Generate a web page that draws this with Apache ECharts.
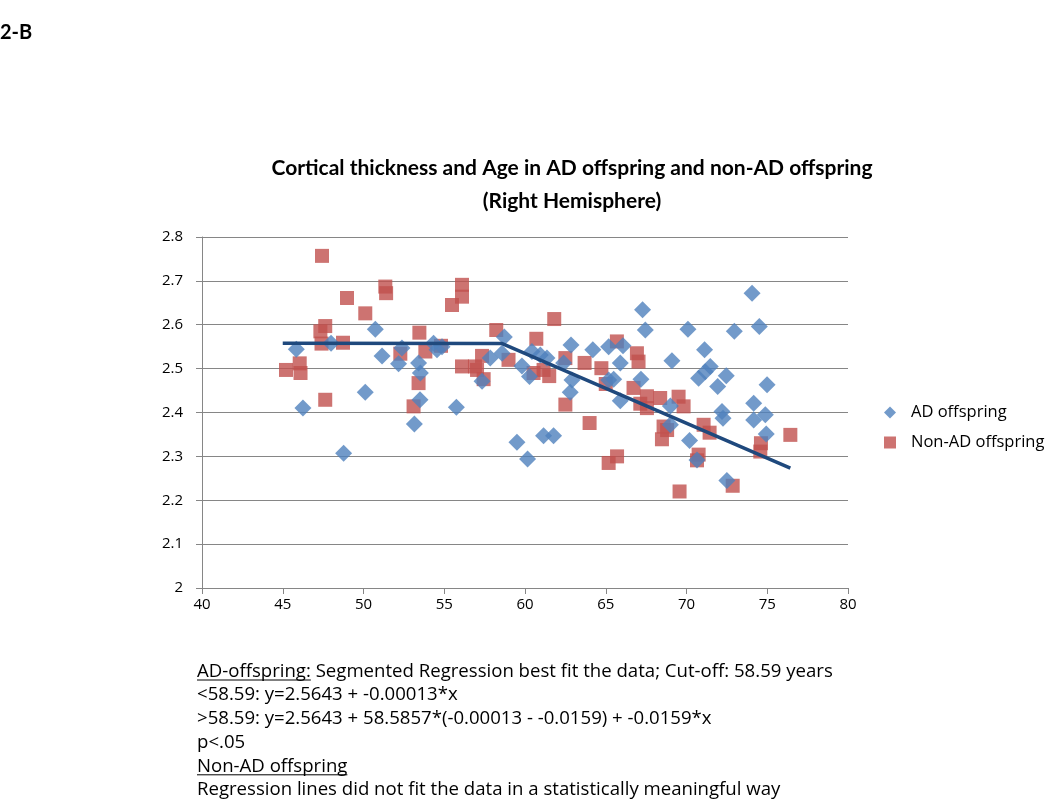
<!DOCTYPE html>
<html><head><meta charset="utf-8">
<script src="https://cdn.jsdelivr.net/npm/echarts@6/dist/echarts.min.js"></script>
<style>html,body{margin:0;padding:0;background:#fff}#c{width:1050px;height:807px}</style>
</head><body><div id="c"></div>
<script>
// AD offspring [age, thickness]
const adOffspring = [
[45.84,2.544],[46.25,2.41],[47.99,2.558],[48.77,2.307],[50.11,2.446],[50.73,2.59],[51.15,2.529],
[52.17,2.511],[52.38,2.547],[53.15,2.374],[53.41,2.513],[53.52,2.49],[53.5,2.429],[54.34,2.558],
[54.55,2.543],[54.86,2.55],[55.75,2.412],[57.34,2.471],[57.85,2.524],[58.58,2.535],[58.72,2.572],
[59.5,2.332],[59.81,2.506],[60.16,2.294],[60.28,2.482],[60.43,2.539],[60.95,2.531],[61.15,2.347],
[61.36,2.524],[61.77,2.347],[62.39,2.513],[62.8,2.446],[62.85,2.554],[62.91,2.474],[64.2,2.543],
[65.18,2.55],[65.18,2.474],[65.49,2.476],[65.9,2.513],[65.9,2.427],[66.07,2.552],[67.18,2.476],
[67.28,2.634],[67.45,2.588],[69.0,2.415],[69.0,2.372],[69.1,2.518],[70.09,2.59],[70.19,2.336],
[70.65,2.292],[70.75,2.478],[71.12,2.543],[71.16,2.493],[71.47,2.505],[71.93,2.459],[72.2,2.402],
[72.26,2.387],[72.46,2.484],[72.5,2.245],[72.96,2.585],[74.06,2.672],[74.16,2.421],[74.16,2.383],
[74.51,2.596],[74.88,2.395],[74.94,2.351],[74.99,2.463]
];
// Non-AD offspring [age, thickness]
const nonAdOffspring = [
[45.2,2.497],[46.05,2.512],[46.1,2.49],[47.43,2.757],[47.63,2.597],[47.33,2.585],[47.4,2.557],
[47.63,2.429],[48.73,2.559],[48.98,2.661],[50.11,2.626],[51.35,2.687],[51.4,2.672],[52.28,2.534],
[53.1,2.414],[53.41,2.467],[53.46,2.582],[53.83,2.539],[54.8,2.552],[55.48,2.645],[56.1,2.691],
[56.1,2.664],[56.1,2.505],[56.9,2.505],[57.03,2.497],[57.34,2.529],[57.44,2.476],[58.22,2.588],
[58.98,2.52],[60.53,2.49],[60.7,2.568],[61.15,2.497],[61.5,2.483],[61.81,2.613],[62.5,2.524],
[62.5,2.418],[63.69,2.513],[64.0,2.376],[64.73,2.501],[65.0,2.465],[65.18,2.285],[65.69,2.562],
[65.7,2.3],[66.72,2.456],[66.93,2.535],[67.03,2.516],[67.14,2.42],[67.55,2.437],[67.55,2.41],
[68.37,2.433],[68.48,2.339],[68.58,2.368],[68.8,2.36],[69.51,2.436],[69.57,2.22],[69.82,2.414],
[70.65,2.291],[70.75,2.304],[71.06,2.372],[71.43,2.354],[72.86,2.233],[74.57,2.311],[74.61,2.33],
[76.43,2.349]
];
// Segmented regression line vertices (AD offspring)
const segmentLine = [[45.0,2.558],[58.59,2.557],[76.43,2.273]];
const yTicks = [2,2.1,2.2,2.3,2.4,2.5,2.6,2.7,2.8];
const xTicks = [40,45,50,55,60,65,70,75,80];
const noteLines = [
 ["AD-offspring:", " Segmented Regression best fit the data; Cut-off: 58.59 years"],
 ["", "<58.59: y=2.5643 + -0.00013*x"],
 ["", ">58.59: y=2.5643 + 58.5857*(-0.00013 - -0.0159) + -0.0159*x"],
 ["", "p<.05"],
 ["Non-AD offspring", ""],
 ["", "Regression lines did not fit the data in a statistically meaningful way"]
];

const FONT = 'Lato, "Open Sans", sans-serif';
const NFONT = '"Open Sans", sans-serif';
const chart = echarts.init(document.getElementById('c'));
const meas = document.createElement('canvas').getContext('2d');
const noteSize = 18.6;
meas.font = noteSize + 'px ' + NFONT;
const graphics = [
 {type:'text', left:0, top:23, style:{text:'2-B', font:'bold 20px '+FONT, fill:'#000'}}
];
const noteX = 197, noteY0 = 662, noteGap = 23.7;
noteLines.forEach((ln,i)=>{
  const y = noteY0 + i*noteGap;
  const ul = ln[0], rest = ln[1];
  const w = ul ? meas.measureText(ul).width : 0;
  if (ul) {
    graphics.push({type:'text', left:noteX, top:y, style:{text:ul, font:noteSize+'px '+NFONT, fill:'#000'}});
    graphics.push({type:'line', shape:{x1:noteX, y1:y+18, x2:noteX+w, y2:y+18}, style:{stroke:'#000', lineWidth:1}});
  }
  if (rest) graphics.push({type:'text', left:noteX+w, top:y, style:{text:rest, font:noteSize+'px '+NFONT, fill:'#000'}});
});

chart.setOption({
  animation:false,
  backgroundColor:'#fff',
  title:{
    text:'Cortical thickness and Age in AD offspring and non-AD offspring\n(Right Hemisphere)',
    left:567, top:147, textAlign:'center',
    textStyle:{fontFamily:FONT, fontWeight:'bold', fontSize:21, color:'#000', lineHeight:33}
  },
  legend:{
    orient:'vertical', left:879, top:399, itemGap:13, itemWidth:12, itemHeight:12,
    textStyle:{fontFamily:NFONT, fontSize:16.5, color:'#000', padding:[0,0,0,10]},
    data:['AD offspring','Non-AD offspring']
  },
  grid:{left:202, top:237, width:646, height:351},
  xAxis:{
    type:'value', min:xTicks[0], max:xTicks[xTicks.length-1], interval:5,
    axisLine:{lineStyle:{color:'#868686'}},
    axisTick:{show:true, length:6, lineStyle:{color:'#868686'}},
    axisLabel:{fontFamily:NFONT, fontSize:15, color:'#000', margin:9},
    splitLine:{show:false}
  },
  yAxis:{
    type:'value', min:yTicks[0], max:yTicks[yTicks.length-1], interval:0.1,
    axisLine:{show:true, lineStyle:{color:'#868686'}},
    axisTick:{show:true, length:6, lineStyle:{color:'#868686'}},
    axisLabel:{fontFamily:NFONT, fontSize:15, color:'#000', margin:19,
      formatter:v=>String(Math.round(v*10)/10)},
    splitLine:{show:true, lineStyle:{color:'#868686', width:1}}
  },
  series:[
    {name:'AD offspring', type:'scatter', data:adOffspring, symbol:'diamond', symbolSize:17,
     itemStyle:{color:'#4F81BD'}, z:3},
    {name:'Non-AD offspring', type:'scatter', data:nonAdOffspring, symbol:'rect', symbolSize:14,
     itemStyle:{color:'#C0504D'}, z:2},
    {name:'Segmented fit', type:'line', data:segmentLine, showSymbol:false, symbol:'none',
     lineStyle:{color:'#1F497D', width:3.5}, z:4}
  ],
  graphic:graphics
});
</script></body></html>
